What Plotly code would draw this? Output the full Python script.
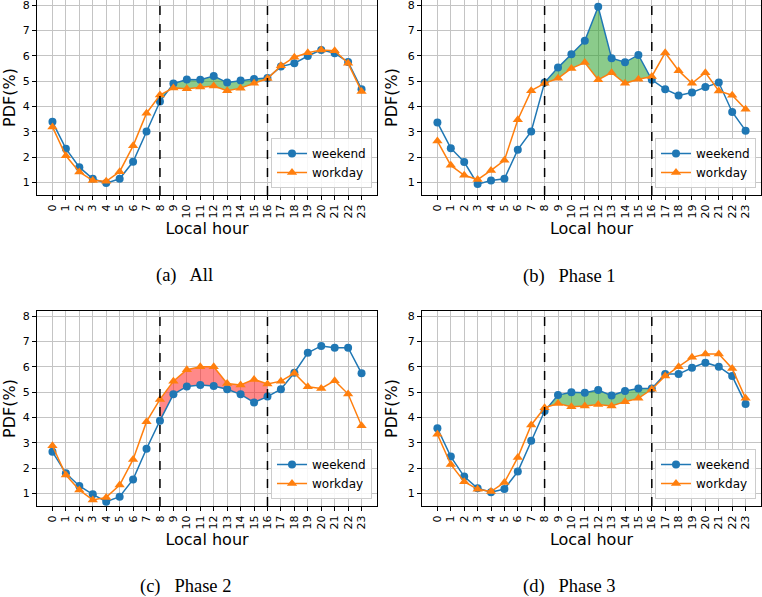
import plotly.graph_objects as go

hours = list(range(24))
phase_bounds = [8, 16]

weekend_all = [3.39, 2.33, 1.60, 1.14, 0.97, 1.14, 1.81, 3.01, 4.19, 4.90, 5.06, 5.05, 5.20, 4.94, 5.02, 5.08,
               5.12, 5.57, 5.70, 5.99, 6.23, 6.10, 5.75, 4.68]
workday_all = [3.19, 2.05, 1.41, 1.07, 1.04, 1.42, 2.44, 3.73, 4.45, 4.73, 4.70, 4.76, 4.80, 4.62, 4.72, 4.91,
               5.10, 5.60, 5.94, 6.12, 6.23, 6.20, 5.70, 4.59]

weekend_p1 = [3.36, 2.35, 1.80, 0.93, 1.07, 1.14, 2.29, 3.01, 4.94, 5.53, 6.06, 6.59, 7.93, 5.90, 5.74, 6.03,
              5.05, 4.68, 4.43, 4.55, 4.76, 4.94, 3.78, 3.04]
workday_p1 = [2.63, 1.67, 1.28, 1.11, 1.47, 1.87, 3.47, 4.62, 4.91, 5.11, 5.50, 5.73, 5.05, 5.33, 4.91, 5.07,
              5.18, 6.12, 5.41, 4.91, 5.33, 4.61, 4.44, 3.89]

weekend_p2 = [2.64, 1.79, 1.29, 0.96, 0.67, 0.87, 1.55, 2.76, 3.87, 4.91, 5.22, 5.28, 5.24, 5.11, 4.91, 4.59,
              4.82, 5.11, 5.76, 6.55, 6.82, 6.75, 6.75, 5.74]
workday_p2 = [2.88, 1.72, 1.13, 0.74, 0.84, 1.33, 2.34, 3.83, 4.71, 5.43, 5.88, 6.00, 6.00, 5.34, 5.28, 5.50,
              5.32, 5.43, 5.74, 5.21, 5.14, 5.45, 4.92, 3.67]

weekend_p3 = [3.57, 2.45, 1.66, 1.20, 1.04, 1.17, 1.86, 3.08, 4.25, 4.88, 4.99, 4.97, 5.08, 4.86, 5.04, 5.14,
              5.14, 5.71, 5.71, 5.96, 6.16, 6.00, 5.63, 4.53]
workday_p3 = [3.33, 2.14, 1.46, 1.16, 1.07, 1.43, 2.42, 3.70, 4.38, 4.55, 4.42, 4.45, 4.51, 4.45, 4.62, 4.75,
              5.11, 5.63, 6.00, 6.37, 6.50, 6.50, 5.93, 4.75]

captions = ["(a)   All", "(b)   Phase 1", "(c)   Phase 2", "(d)   Phase 3"]
panels = [(weekend_all, workday_all), (weekend_p1, workday_p1), (weekend_p2, workday_p2), (weekend_p3, workday_p3)]
fill_colors = ["rgba(44,160,44,0.55)", "rgba(44,160,44,0.55)", "rgba(255,40,40,0.55)", "rgba(44,160,44,0.55)"]

W, H = 762, 597
# plot area pixel boxes (left, right, top, bottom)
boxes = [(37, 377, 0, 195), (422, 761, 0, 195), (37, 377, 311, 506), (422, 761, 311, 506)]
caption_pos = [(184, 275), (569, 276), (185, 586), (569, 586)]

fig = go.Figure()
tick_font = dict(family="DejaVu Sans", size=11, color="black")

for i, ((wk, wd), box) in enumerate(zip(panels, boxes)):
    n = "" if i == 0 else str(i + 1)
    xa, ya = "x" + n, "y" + n
    lg = "legend" + n
    lo, hi = phase_bounds
    sel = [h for h in hours if lo <= h <= hi]
    fx = sel + sel[::-1]
    fy = [wd[h] for h in sel] + [wk[h] for h in sel[::-1]]
    fig.add_trace(go.Scatter(x=fx, y=fy, fill="toself", fillcolor=fill_colors[i], mode="lines",
                             line=dict(width=0), hoverinfo="skip", showlegend=False, xaxis=xa, yaxis=ya))
    fig.add_trace(go.Scatter(x=hours, y=wk, name="weekend", mode="lines+markers",
                             line=dict(color="#1f77b4", width=1.5),
                             marker=dict(symbol="circle", size=8, color="#1f77b4"),
                             xaxis=xa, yaxis=ya, legend=lg))
    fig.add_trace(go.Scatter(x=hours, y=wd, name="workday", mode="lines+markers",
                             line=dict(color="#ff7f0e", width=1.5),
                             marker=dict(symbol="triangle-up", size=9, color="#ff7f0e"),
                             xaxis=xa, yaxis=ya, legend=lg))
    l, r, t, b = box
    xdom = [l / W, min(r / W, 1.0)]
    ydom = [1 - b / H, 1 - t / H]
    fig.update_layout(**{
        "xaxis" + n: dict(domain=xdom, range=[-1.15, 24.15], tickmode="array", tickvals=hours,
                          ticktext=[str(h) for h in hours], tickangle=-90, tickfont=tick_font,
                          showgrid=True, gridcolor="#c4c4c4", gridwidth=1, zeroline=False,
                          showline=True, mirror=True, linecolor="black", linewidth=1,
                          ticks="outside", ticklen=4, tickcolor="black", ticklabeloverflow="allow",
                          title=dict(text="Local hour", font=dict(family="DejaVu Sans", size=16, color="black"),
                                     standoff=5),
                          anchor=ya),
        "yaxis" + n: dict(domain=ydom, range=[0.5, 8.2], tickmode="array", tickvals=list(range(1, 9)),
                          tickfont=tick_font, showgrid=True, gridcolor="#c4c4c4", gridwidth=1, zeroline=False,
                          showline=True, mirror=True, linecolor="black", linewidth=1,
                          ticks="outside", ticklen=4, tickcolor="black", ticklabeloverflow="allow",
                          title=dict(text="PDF(%)", font=dict(family="DejaVu Sans", size=16, color="black"),
                                     standoff=6),
                          anchor=xa),
        lg: dict(x=(r - 5) / W, y=1 - (b - 7) / H, xanchor="right", yanchor="bottom",
                 bgcolor="rgba(255,255,255,0.85)", bordercolor="#cccccc", borderwidth=1,
                 font=dict(family="DejaVu Sans", size=12, color="black"), tracegroupgap=0,
                 itemwidth=30),
    })
    for xb in phase_bounds:
        fig.add_shape(type="line", x0=xb, x1=xb, y0=0, y1=1, xref=xa, yref=ya + " domain",
                      line=dict(color="black", width=1.5, dash="dash"))
    cx, cy = caption_pos[i]
    fig.add_annotation(text=captions[i], x=cx / W, y=1 - cy / H, xref="paper", yref="paper",
                       showarrow=False, xanchor="center", yanchor="middle",
                       font=dict(family="Liberation Serif", size=18.5, color="black"))

fig.update_layout(width=W, height=H, margin=dict(l=0, r=0, t=0, b=0), hovermode=False,
                  plot_bgcolor="white", paper_bgcolor="white", showlegend=True)

fig.write_html("out.html", config={"displayModeBar": False, "staticPlot": True},
               post_script="document.body.style.margin='0';document.body.style.overflow='hidden';")
